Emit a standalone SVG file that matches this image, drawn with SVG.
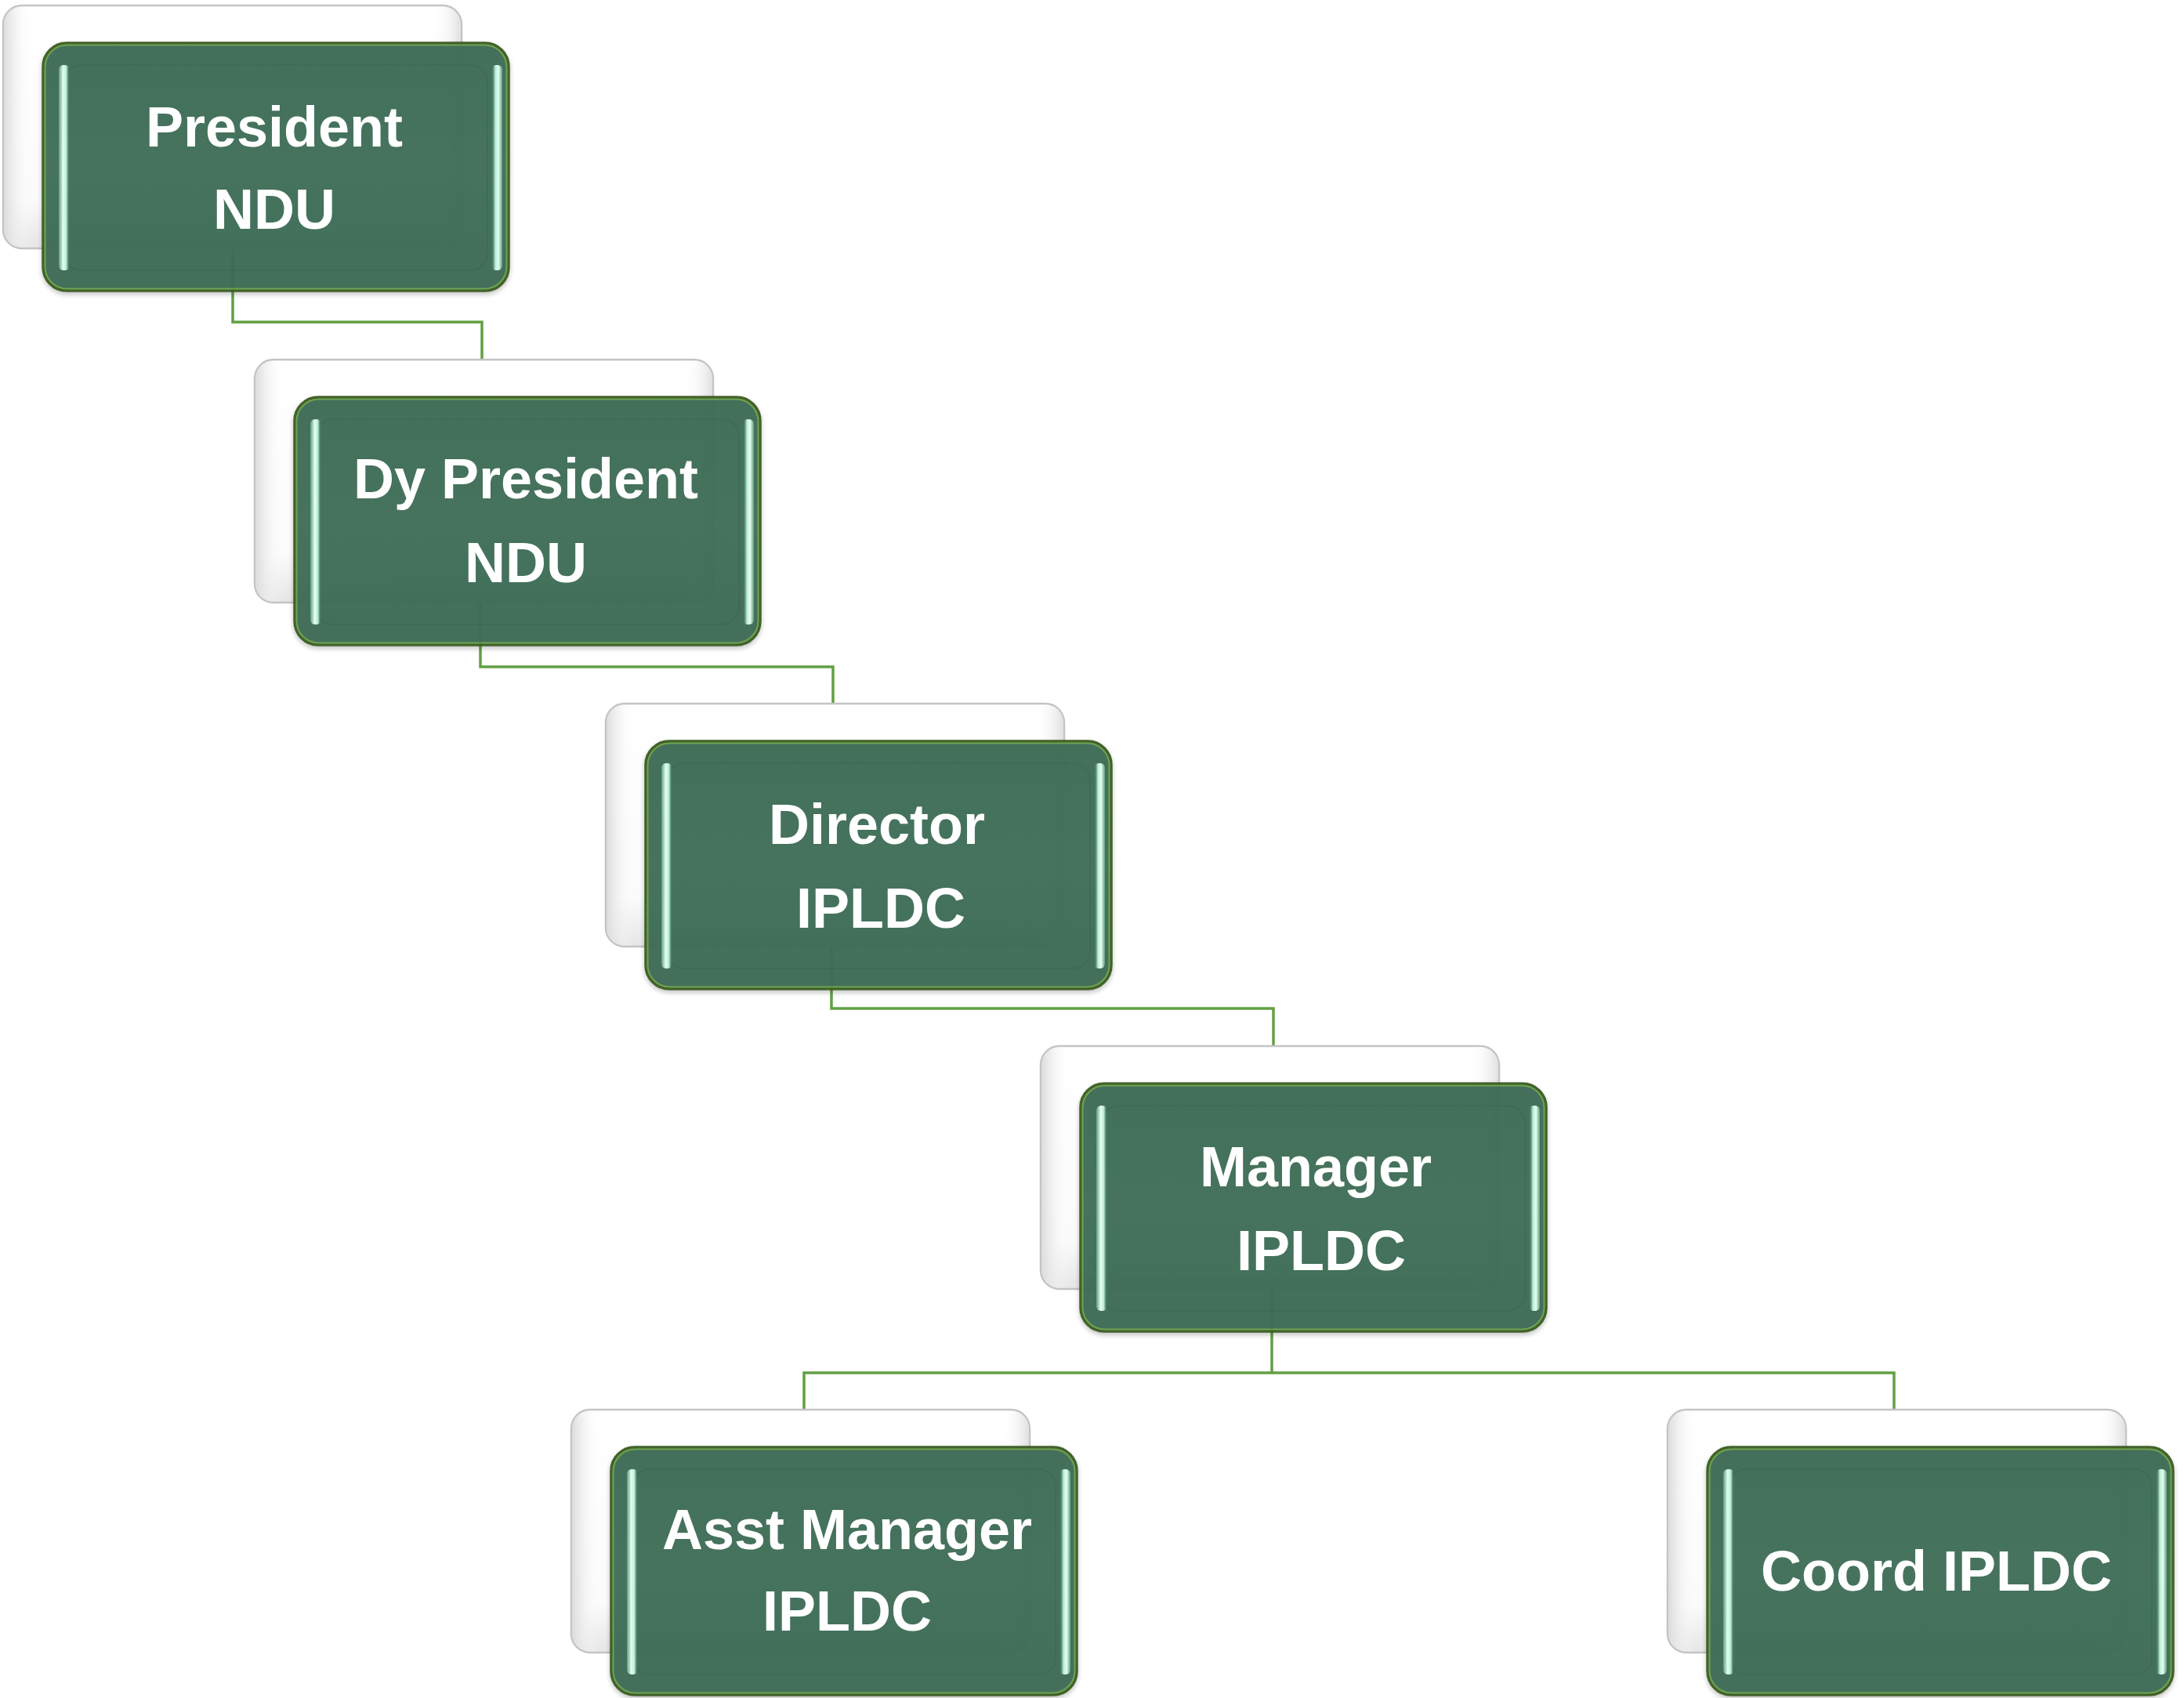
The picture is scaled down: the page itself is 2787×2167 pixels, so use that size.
<svg xmlns="http://www.w3.org/2000/svg" width="2787" height="2167" viewBox="0 0 2787 2167">
<defs>
<linearGradient id="wg" x1="0" y1="0" x2="0" y2="1">
<stop offset="0" stop-color="#ffffff"/>
<stop offset="0.8" stop-color="#fbfbfb"/>
<stop offset="1" stop-color="#e6e6e6"/>
</linearGradient>
<linearGradient id="wgl" x1="0" y1="0" x2="1" y2="0">
<stop offset="0" stop-color="#dcdcdc"/>
<stop offset="0.06" stop-color="#ffffff" stop-opacity="0"/>
<stop offset="0.94" stop-color="#ffffff" stop-opacity="0"/>
<stop offset="1" stop-color="#e0e0e0"/>
</linearGradient>
<linearGradient id="gg" x1="0" y1="0" x2="0" y2="1">
<stop offset="0" stop-color="#3d6b55"/>
<stop offset="0.5" stop-color="#3f6e58"/>
<stop offset="1" stop-color="#3c6a54"/>
</linearGradient>
<linearGradient id="hl" x1="0" y1="0" x2="1" y2="0">
<stop offset="0" stop-color="#5f9e7e"/>
<stop offset="0.4" stop-color="#e6fff3"/>
<stop offset="0.7" stop-color="#b4ecd2"/>
<stop offset="1" stop-color="#3f6e58" stop-opacity="0"/>
</linearGradient>
<linearGradient id="hr" x1="0" y1="0" x2="1" y2="0">
<stop offset="0" stop-color="#3f6e58" stop-opacity="0"/>
<stop offset="0.35" stop-color="#b4ecd2"/>
<stop offset="0.65" stop-color="#e6fff3"/>
<stop offset="1" stop-color="#5f9e7e"/>
</linearGradient>
<filter id="sh" x="-5%" y="-5%" width="110%" height="115%">
<feDropShadow dx="0" dy="3" stdDeviation="3" flood-color="#000" flood-opacity="0.25"/>
</filter>
<g id="node">
<rect class="wbox" x="0" y="0" width="585" height="310" rx="24"/>
<rect x="1" y="1" width="583" height="308" rx="23" fill="url(#wgl)"/>
<g opacity="0.96">
<rect class="gbox" x="51" y="48" width="594" height="316" rx="30" filter="url(#sh)"/>
<rect class="gin" x="53.5" y="50.5" width="589" height="311" rx="28"/>
<rect class="ginner" x="78" y="76" width="540" height="262" rx="22"/>
</g>
<rect x="71" y="76" width="14" height="262" rx="6" fill="url(#hl)"/>
<rect x="623" y="76" width="14" height="262" rx="6" fill="url(#hr)"/>
</g>
</defs>
<style>
.wbox{fill:url(#wg);stroke:#c4c4c4;stroke-width:2.5}
.gbox{fill:url(#gg);stroke:#3b5c22;stroke-width:3.5}
.gin{fill:none;stroke:#6aa048;stroke-width:2}
.ginner{fill:none;stroke:#2f5a44;stroke-opacity:0.3;stroke-width:2}
.lbl{font-family:"Liberation Sans",Arial,sans-serif;font-weight:bold;font-size:72px;fill:#ffffff;text-anchor:middle}
.conn{fill:none;stroke:#62a043;stroke-width:3.5}
</style>
<rect width="2787" height="2167" fill="#ffffff"/>
<g id="connectors">
<path class="conn" d="M297 317 V411 H615 V459"/>
<path class="conn" d="M613 769 V851 H1063 V898"/>
<path class="conn" d="M1061 1208 V1287 H1625 V1335"/>
<path class="conn" d="M1623 1645 V1752"/>
<path class="conn" d="M1026 1799 V1752 H2417 V1799"/>
</g>
<g id="node-president">
<use href="#node" x="4" y="7"/>
<text class="lbl" x="350" y="187">President</text>
<text class="lbl" x="350" y="292">NDU</text>
</g>
<g id="node-dy-president">
<use href="#node" x="325" y="459"/>
<text class="lbl" x="671" y="636">Dy President</text>
<text class="lbl" x="671" y="743">NDU</text>
</g>
<g id="node-director">
<use href="#node" x="773" y="898"/>
<text class="lbl" x="1119" y="1077">Director</text>
<text class="lbl" x="1124" y="1184">IPLDC</text>
</g>
<g id="node-manager">
<use href="#node" x="1328" y="1335"/>
<text class="lbl" x="1679" y="1514">Manager</text>
<text class="lbl" x="1686" y="1621">IPLDC</text>
</g>
<g id="node-asst-manager">
<use href="#node" x="729" y="1799"/>
<text class="lbl" x="1081" y="1977">Asst Manager</text>
<text class="lbl" x="1081" y="2081">IPLDC</text>
</g>
<g id="node-coord">
<use href="#node" x="2128" y="1799"/>
<text class="lbl" x="2471" y="2030">Coord IPLDC</text>
</g>
</svg>
